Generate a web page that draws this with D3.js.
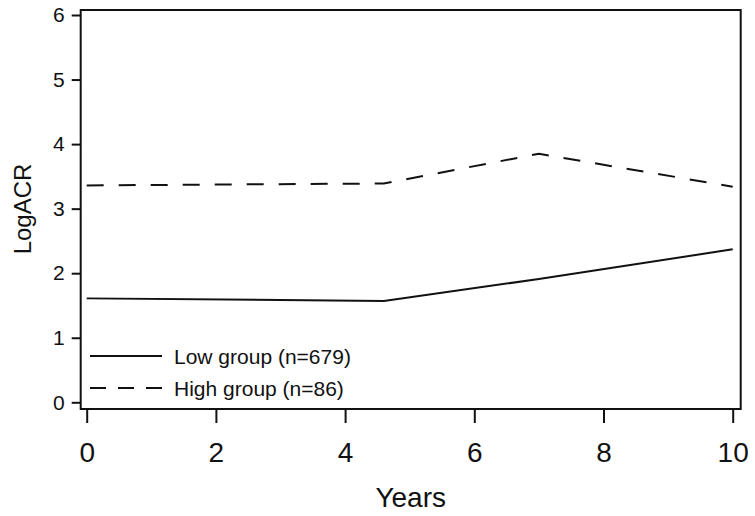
<!DOCTYPE html>
<html>
<head>
<meta charset="utf-8">
<script src="https://d3js.org/d3.v7.min.js"></script>
<style>
  body { margin: 0; background: #fff; }
  text { font-family: Arial, 'Liberation Sans', sans-serif; fill: #111; }
</style>
</head>
<body>
<div id="chart"></div>
<script>
var width = 755, height = 516;

// data
var years = [0, 4.6, 7, 10];
var lowGroup = [1.61, 1.57, 1.91, 2.37];
var highGroup = [3.36, 3.39, 3.85, 3.34];
var seriesNames = ["Low group (n=679)", "High group (n=86)"];
var xTicks = [0, 2, 4, 6, 8, 10];
var yTicks = [0, 1, 2, 3, 4, 5, 6];

var frame = { left: 80.7, right: 740.7, top: 10, bottom: 409 };

var svg = d3.select("#chart").append("svg")
  .attr("width", width).attr("height", height);

var x = d3.scaleLinear().domain([0, 10]).range([86.7, 732.7]);
var y = d3.scaleLinear().domain([0, 6]).range([402.3, 15]);

// frame round the plot
svg.append("rect")
  .attr("x", frame.left).attr("y", frame.top)
  .attr("width", frame.right - frame.left)
  .attr("height", frame.bottom - frame.top)
  .attr("fill", "none").attr("stroke", "#111").attr("stroke-width", 2);

// y axis
var yAxis = svg.append("g")
  .attr("transform", "translate(" + frame.left + ",0)")
  .call(d3.axisLeft(y).tickValues(yTicks).tickFormat(d3.format("d"))
    .tickSize(9).tickPadding(7));
yAxis.select(".domain").remove();
yAxis.selectAll("line").attr("stroke", "#111").attr("stroke-width", 2);
yAxis.selectAll("text").style("font-size", "21px").attr("fill", "#111");

// x axis
var xAxis = svg.append("g")
  .attr("transform", "translate(0," + frame.bottom + ")")
  .call(d3.axisBottom(x).tickValues(xTicks).tickFormat(d3.format("d"))
    .tickSize(14).tickPadding(19));
xAxis.select(".domain").remove();
xAxis.selectAll("line").attr("stroke", "#111").attr("stroke-width", 2);
xAxis.selectAll("text").style("font-size", "28px").attr("fill", "#111");

// axis titles
svg.append("text")
  .attr("x", (frame.left + frame.right) / 2).attr("y", 507)
  .attr("text-anchor", "middle").style("font-size", "28px")
  .text("Years");

svg.append("text")
  .attr("transform", "translate(31,209) rotate(-90)")
  .attr("text-anchor", "middle").style("font-size", "24px")
  .text("LogACR");

// lines
var line = d3.line()
  .x(function(d) { return x(d[0]); })
  .y(function(d) { return y(d[1]); });

svg.append("path")
  .datum(d3.zip(years, lowGroup))
  .attr("d", line)
  .attr("fill", "none").attr("stroke", "#111").attr("stroke-width", 2);

svg.append("path")
  .datum(d3.zip(years, highGroup))
  .attr("d", line)
  .attr("fill", "none").attr("stroke", "#111").attr("stroke-width", 2)
  .attr("stroke-dasharray", "17,15");

// legend
var legend = svg.append("g");
var dashes = [null, "16,12"];
var legendY = [356, 388];
seriesNames.forEach(function(name, i) {
  legend.append("line")
    .attr("x1", 90).attr("x2", 162)
    .attr("y1", legendY[i]).attr("y2", legendY[i])
    .attr("stroke", "#111").attr("stroke-width", 2)
    .attr("stroke-dasharray", dashes[i]);
  legend.append("text")
    .attr("x", 174).attr("y", legendY[i] + 7.5)
    .style("font-size", "21px")
    .text(name);
});
</script>
</body>
</html>
